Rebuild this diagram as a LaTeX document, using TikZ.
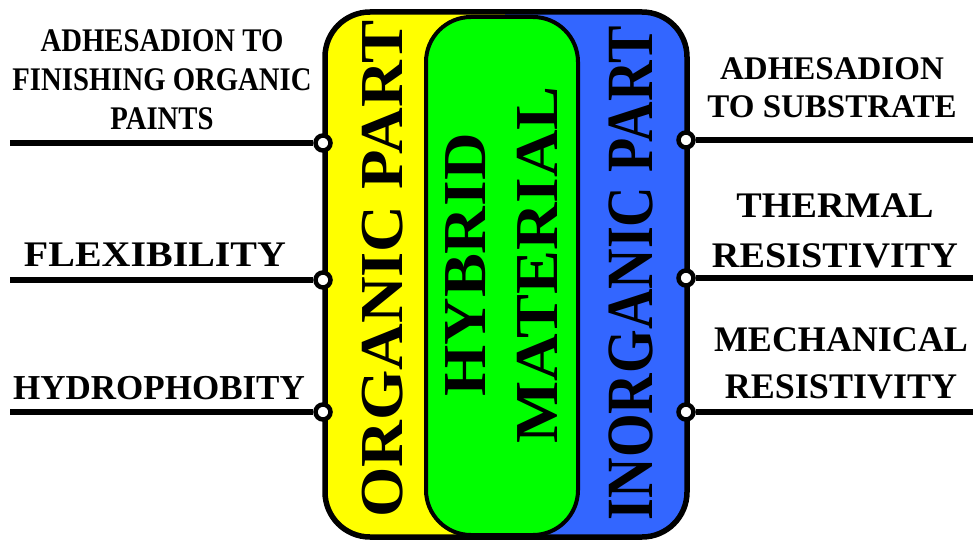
\documentclass[tikz,border=0pt]{standalone}
\usepackage{fontspec}
\setmainfont{Liberation Serif}
\definecolor{orgyellow}{RGB}{255,255,0}
\definecolor{hybgreen}{RGB}{0,255,0}
\definecolor{inorgblue}{RGB}{51,102,255}

\begin{document}
\begin{tikzpicture}[x=1pt,y=-1pt,
  lbl/.style={font=\bfseries\fontsize{33}{39}\selectfont, align=center, inner sep=0pt},
  bigtxt/.style={font=\bfseries\fontsize{61}{71}\selectfont, rotate=90, inner sep=0pt},
  port/.style={circle, draw=black, fill=white, line width=4.5pt, minimum size=15pt, inner sep=0pt},
  wire/.style={line width=5.5pt},
  frame/.style={line width=5.5pt, rounded corners=45pt}
]
\useasboundingbox (0,0) rectangle (973,540);

% two halves of the body: organic (left) and inorganic (right)
\begin{scope}
  \clip[rounded corners=45pt] (325,12) rectangle (687,537);
  \fill[orgyellow] (320,0) rectangle (505,545);
  \fill[inorgblue] (505,0) rectangle (695,545);
\end{scope}

% hybrid core
\draw[fill=hybgreen, line width=4pt, rounded corners=45pt] (426,17) rectangle (578,535);

% outer frame
\draw[frame] (325,12) rectangle (687,537);

% vertical titles
\node[bigtxt, xscale=1.06] (org) at (383,269) {ORGANIC PART};
\node[bigtxt, xscale=1.08] (hyb) at (466,265) {HYBRID};
\node[bigtxt, xscale=1.08] (mat) at (537,265) {MATERIAL};
\node[bigtxt, font=\bfseries\fontsize{66}{71}\selectfont, xscale=0.85] (inorg) at (631,273) {INORGANIC PART};

% connection ports on the frame
\node[port] (pl1) at (323,143) {};
\node[port] (pl2) at (323,280) {};
\node[port] (pl3) at (323,412) {};
\node[port] (pr1) at (686,140) {};
\node[port] (pr2) at (686,278) {};
\node[port] (pr3) at (686,412) {};

% free ends of the wires
\coordinate (el1) at (10,143);
\coordinate (el2) at (10,280);
\coordinate (el3) at (10,412);
\coordinate (er1) at (973,140);
\coordinate (er2) at (973,278);
\coordinate (er3) at (973,412);

\draw[wire] (el1) -- (pl1);
\draw[wire] (el2) -- (pl2);
\draw[wire] (el3) -- (pl3);
\draw[wire] (pr1) -- (er1);
\draw[wire] (pr2) -- (er2);
\draw[wire] (pr3) -- (er3);

% property labels, organic side
\node[lbl, xscale=0.87] (l1) at (162,80) {ADHESADION TO\\FINISHING ORGANIC\\PAINTS};
\node[lbl, font=\bfseries\fontsize{36}{40}\selectfont, xscale=1.11] (l2) at (155,255) {FLEXIBILITY};
\node[lbl, font=\bfseries\fontsize{35}{40}\selectfont] (l3) at (159,388) {HYDROPHOBITY};

% property labels, inorganic side
\node[lbl, font=\bfseries\fontsize{33}{38}\selectfont] (r1) at (832,88) {ADHESADION\\TO SUBSTRATE};
\node[lbl, font=\bfseries\fontsize{36}{50}\selectfont, xscale=1.06] (r2) at (835,231) {THERMAL\\RESISTIVITY};
\node[lbl, font=\bfseries\fontsize{36}{47}\selectfont] (r3) at (841,363) {MECHANICAL\\RESISTIVITY};
\end{tikzpicture}
\end{document}
